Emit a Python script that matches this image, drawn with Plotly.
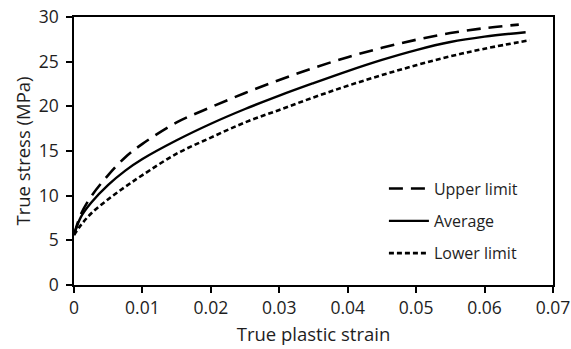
import plotly.graph_objects as go

# Data
strain = [0, 0.001, 0.0025, 0.005, 0.0075, 0.01, 0.015, 0.02, 0.025, 0.03,
          0.035, 0.04, 0.045, 0.05, 0.055, 0.06]

upper_x = strain + [0.065]
upper_y = [5.6, 7.9, 9.9, 12.3, 14.3, 15.8, 18.2, 19.9, 21.5, 22.95,
           24.3, 25.5, 26.55, 27.45, 28.2, 28.75, 29.15]

avg_x = strain + [0.066]
avg_y = [5.6, 7.6, 9.2, 11.2, 12.8, 14.1, 16.2, 18.05, 19.7, 21.2,
         22.6, 23.95, 25.2, 26.3, 27.2, 27.8, 28.3]

lower_x = strain + [0.0666]
lower_y = [5.6, 6.7, 8.0, 9.6, 11.0, 12.3, 14.7, 16.5, 18.2, 19.6,
           21.0, 22.3, 23.5, 24.6, 25.6, 26.45, 27.4]

x_ticks = [0, 0.01, 0.02, 0.03, 0.04, 0.05, 0.06, 0.07]
x_tick_labels = ["0", "0.01", "0.02", "0.03", "0.04", "0.05", "0.06", "0.07"]
y_ticks = [0, 5, 10, 15, 20, 25, 30]

FONT = "Open Sans"
TXT = "#1e1e1e"

fig = go.Figure()
fig.add_trace(go.Scatter(x=upper_x, y=upper_y, mode="lines", name="Upper limit",
                         legendgroup="u",
                         line=dict(color="black", width=2.6, dash="14px,8px",
                                   shape="spline", smoothing=1)))
fig.add_trace(go.Scatter(x=avg_x, y=avg_y, mode="lines", name="Average",
                         legendgroup="a",
                         line=dict(color="black", width=2.4, shape="spline", smoothing=1)))
fig.add_trace(go.Scatter(x=lower_x, y=lower_y, mode="lines", name="Lower limit",
                         legendgroup="l",
                         line=dict(color="black", width=2.6, dash="5px,3px",
                                   shape="spline", smoothing=1)))

axis_common = dict(showgrid=False, zeroline=False, showline=True, linecolor="black",
                   linewidth=1.5, mirror=True, ticks="outside", ticklen=6,
                   tickwidth=1.5, tickcolor="black", automargin=False,
                   tickfont=dict(family=FONT, size=17.5, color=TXT))

fig.update_xaxes(range=[0, 0.07], tickvals=x_ticks, ticktext=x_tick_labels,
                 title=dict(text="True plastic strain", font=dict(family=FONT, size=18.5, color=TXT),
                            standoff=10),
                 **axis_common)
fig.update_yaxes(range=[0, 30], tickvals=y_ticks, ticklabelstandoff=4,
                 title=dict(text="True stress (MPa)", font=dict(family=FONT, size=18.5, color=TXT),
                            standoff=3),
                 **axis_common)

fig.update_layout(
    width=571, height=349,
    margin=dict(l=74, r=18, t=17, b=64),
    paper_bgcolor="white", plot_bgcolor="white",
    showlegend=True,
    legend=dict(x=0.647, y=0.423, xanchor="left", yanchor="top",
                font=dict(family=FONT, size=16, color=TXT),
                bgcolor="rgba(0,0,0,0)", traceorder="grouped", tracegroupgap=8.5,
                itemwidth=40),
)

fig.write_html("out.html")
